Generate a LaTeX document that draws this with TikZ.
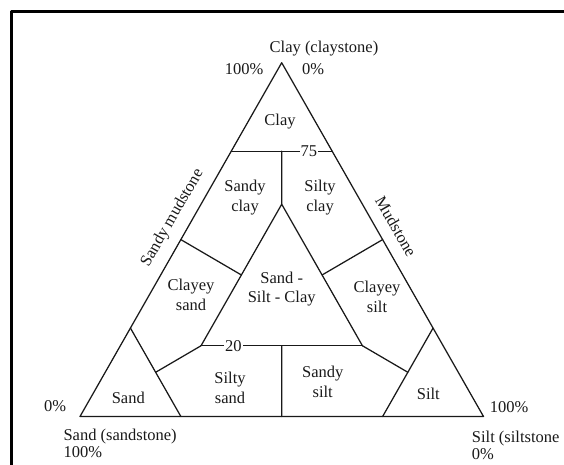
\documentclass[tikz,border=0pt]{standalone}
\usepackage{fontspec}
\setmainfont{Liberation Serif}
\usetikzlibrary{calc}
\begin{document}
\begin{tikzpicture}[x=1pt,y=-1pt,line join=round,line cap=round,
  edge/.style={line width=1.25pt,draw=black!90},
  frame/.style={line width=2.6pt,draw=black},
  lbl/.style={font=\fontsize{16.5}{19.5}\selectfont,text=black!90,inner sep=0pt,align=center},
  corner/.style={font=\fontsize{16.5}{17}\selectfont,text=black!90,inner sep=0pt,align=left,anchor=west},
  tick/.style={font=\fontsize{16.5}{19.5}\selectfont,text=black!90,fill=white,inner sep=1pt}]
\useasboundingbox (0,0) rectangle (564,464);
% frame
\coordinate (f1) at (11.5,470);
\coordinate (f2) at (11.5,11.5);
\coordinate (f3) at (570,11.5);
\draw[frame] (f1) -- (f2) -- (f3);
% main triangle
\coordinate (A) at (281.7,62.7);
\coordinate (B) at (80,416.5);
\coordinate (C) at (483.5,416.5);
\draw[edge] (A) -- (B) -- (C) -- cycle;
% clay 75 line
\coordinate (L75) at ($(A)!0.25!(B)$);
\coordinate (R75) at ($(A)!0.25!(C)$);
\coordinate (M75) at ($(L75)!0.5!(R75)$);
% inner triangle
\coordinate (I1) at (barycentric cs:A=0.6,B=0.2,C=0.2);
\coordinate (I2) at (barycentric cs:A=0.2,B=0.6,C=0.2);
\coordinate (I3) at (barycentric cs:A=0.2,B=0.2,C=0.6);
\draw[edge] (I2) -- (I1) -- (I3);
\draw[edge] (L75) -- node[tick,pos=0.77] (t75) {75} (R75);
\draw[edge] (I2) -- node[tick,pos=0.2] (t20) {20} (I3);
% dividers
\draw[edge] (M75) -- (I1);
\coordinate (P1) at (barycentric cs:A=0.5,B=0.5);
\coordinate (Q1) at ($(I1)!0.5!(I2)$);
\draw[edge] (P1) -- (Q1);
\coordinate (P2) at (barycentric cs:A=0.5,C=0.5);
\coordinate (Q2) at ($(I1)!0.5!(I3)$);
\draw[edge] (P2) -- (Q2);
% sand triangle
\coordinate (S1) at (barycentric cs:A=0.25,B=0.75);
\coordinate (S2) at (barycentric cs:B=0.75,C=0.25);
\coordinate (S12) at ($(S1)!0.5!(S2)$);
\draw[edge] (S1) -- (S2);
\draw[edge] (S12) -- (I2);
% silt triangle
\coordinate (T1) at (barycentric cs:A=0.25,C=0.75);
\coordinate (T2) at (barycentric cs:B=0.25,C=0.75);
\coordinate (T12) at ($(T1)!0.5!(T2)$);
\draw[edge] (T1) -- (T2);
\draw[edge] (T12) -- (I3);
% bottom vertical
\coordinate (U1) at ($(I2)!0.5!(I3)$);
\coordinate (U2) at ($(B)!0.5!(C)$);
\draw[edge] (U1) -- (U2);
% labels
\node[lbl] (nclaystone) at (324,49) {Clay (claystone)};
\node[lbl] (ntop100) at (244,69) {100\%};
\node[lbl] (ntop0) at (313,69) {0\%};
\node[lbl] (nclay) at (280,122) {Clay};
\node[lbl] (nsandyclay) at (245,197.5) {Sandy\\clay};
\node[lbl] (nsiltyclay) at (320,197.5) {Silty\\clay};
\node[lbl] (nclayeysand) at (191,295) {Clayey\\sand};
\node[lbl] (nssc) at (281.7,289) {Sand -\\Silt - Clay};
\node[lbl] (nclayeysilt) at (377,297) {Clayey\\silt};
\node[lbl] (nsand) at (128.3,398) {Sand};
\node[lbl] (nsiltysand) at (230,388) {Silty\\sand};
\node[lbl] (nsandysilt) at (322.7,381.7) {Sandy\\silt};
\node[lbl] (nsilt) at (428.3,394) {Silt};
\node[lbl] (nleft0) at (55,406) {0\%};
\node[lbl] (nright100) at (509,406.7) {100\%};
\node[corner] (nsandstone) at (63.3,443) {Sand (sandstone)\\100\%};
\node[corner] (nsiltstone) at (471.7,445) {Silt (siltstone\\0\%};
\node[lbl,rotate=60] (nsandymud) at (172.5,218) {Sandy mudstone};
\node[lbl,rotate=-60] (nmud) at (396,226.7) {Mudstone};
\end{tikzpicture}
\end{document}
